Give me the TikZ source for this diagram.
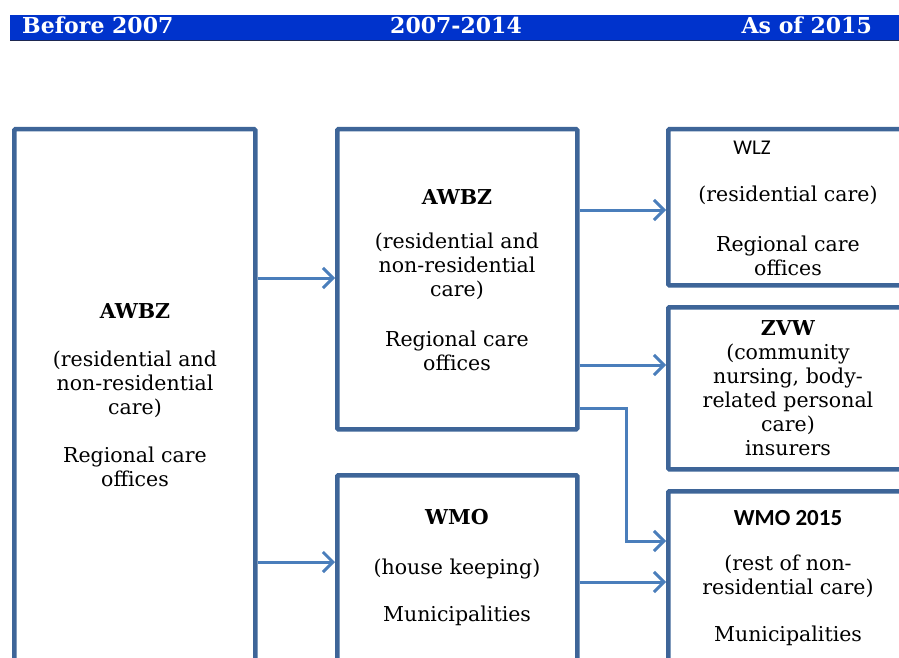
\documentclass[tikz,border=0pt]{standalone}
\usepackage{fontspec}
\setmainfont{DejaVu Serif}
\newfontfamily\calibri{Carlito}
\usetikzlibrary{arrows.meta}

\definecolor{barblue}{RGB}{0,51,204}
\definecolor{barline}{RGB}{30,40,80}
\definecolor{boxblue}{RGB}{62,101,152}
\definecolor{arrowblue}{RGB}{74,126,187}

\begin{document}
\begin{tikzpicture}[x=1pt,y=-1pt,
    box/.style={draw=boxblue,line width=4.5pt,rounded corners=1pt,minimum width=241pt,anchor=north west},
    txt/.style={align=center,font=\fontsize{20.5}{24}\selectfont},
    hdr/.style={text=white,inner sep=0pt,font=\fontsize{22}{26}\selectfont\bfseries},
    arr/.style={arrowblue,line width=3pt,-{Straight Barb[length=10pt,width=20pt]}}]
    \useasboundingbox (0,0) rectangle (899,658);
    \clip (0,0) rectangle (899,658);

    % header bar
    \fill[barblue] (10,15) rectangle (899,40);
    \draw[barline,line width=1.5pt] (10,40.5) -- (899,40.5);
    \node[hdr,anchor=base west] (before) at (22,34) {Before 2007};
    \node[hdr,anchor=base] (between) at (456,34) {2007-2014};
    \node[hdr,anchor=base east] (after) at (872,34) {As of 2015};

    % boxes
    \node[box,minimum height=600pt] (awbzOld) at (12,127) {};
    \node[box,minimum width=240pt,minimum height=300pt] (awbzMid) at (335,127) {};
    \node[box,minimum width=240pt,minimum height=300pt] (wmoMid) at (335,473) {};
    \node[box,minimum height=156pt] (wlz) at (666,127) {};
    \node[box,minimum height=162pt] (zvw) at (666,305) {};
    \node[box,minimum height=300pt] (wmoNew) at (666,489) {};

    % texts
    \node[txt] (awbzOldTxt) at (135,395) {\textbf{AWBZ}\\[24pt](residential and\\non-residential\\care)\\[24pt]Regional care\\offices};
    \node[txt] (awbzMidTxt) at (457,280) {\textbf{AWBZ}\\[20pt](residential and\\non-residential\\care)\\[26pt]Regional care\\offices};
    \node[txt] (wmoMidTxt) at (457,568) {\textbf{WMO}\\[26pt](house keeping)\\[23pt]Municipalities};
    \node[font=\fontsize{21}{24}\selectfont\calibri] (wlzTitle) at (752,148) {WLZ};
    \node[txt] (wlzTxt) at (788,231) {(residential care)\\[26pt]Regional care\\offices};
    \node[txt] (zvwTxt) at (788,388) {\textbf{ZVW}\\(community\\nursing, body-\\related personal\\care)\\insurers};
    \node[font=\fontsize{23}{26}\selectfont\calibri\bfseries] (wmoNewTitle) at (788,518) {WMO 2015};
    \node[txt] (wmoNewTxt) at (788,600) {(rest of non-\\residential care)\\[23pt]Municipalities};

    % connectors
    \coordinate (bend) at (626,541);
    \draw[arr] (awbzOld.east |- 0,278) -- (awbzMid.west |- 0,278);
    \draw[arr] (awbzOld.east |- 0,562) -- (wmoMid.west |- 0,562);
    \draw[arr] (awbzMid.east |- 0,210) -- (wlz.west |- 0,210);
    \draw[arr] (awbzMid.east |- 0,365) -- (zvw.west |- 0,365);
    \draw[arr] (awbzMid.east |- 0,408) -| (bend) -- (wmoNew.west |- bend);
    \draw[arr] (wmoMid.east |- 0,582) -- (wmoNew.west |- 0,582);
\end{tikzpicture}
\end{document}
